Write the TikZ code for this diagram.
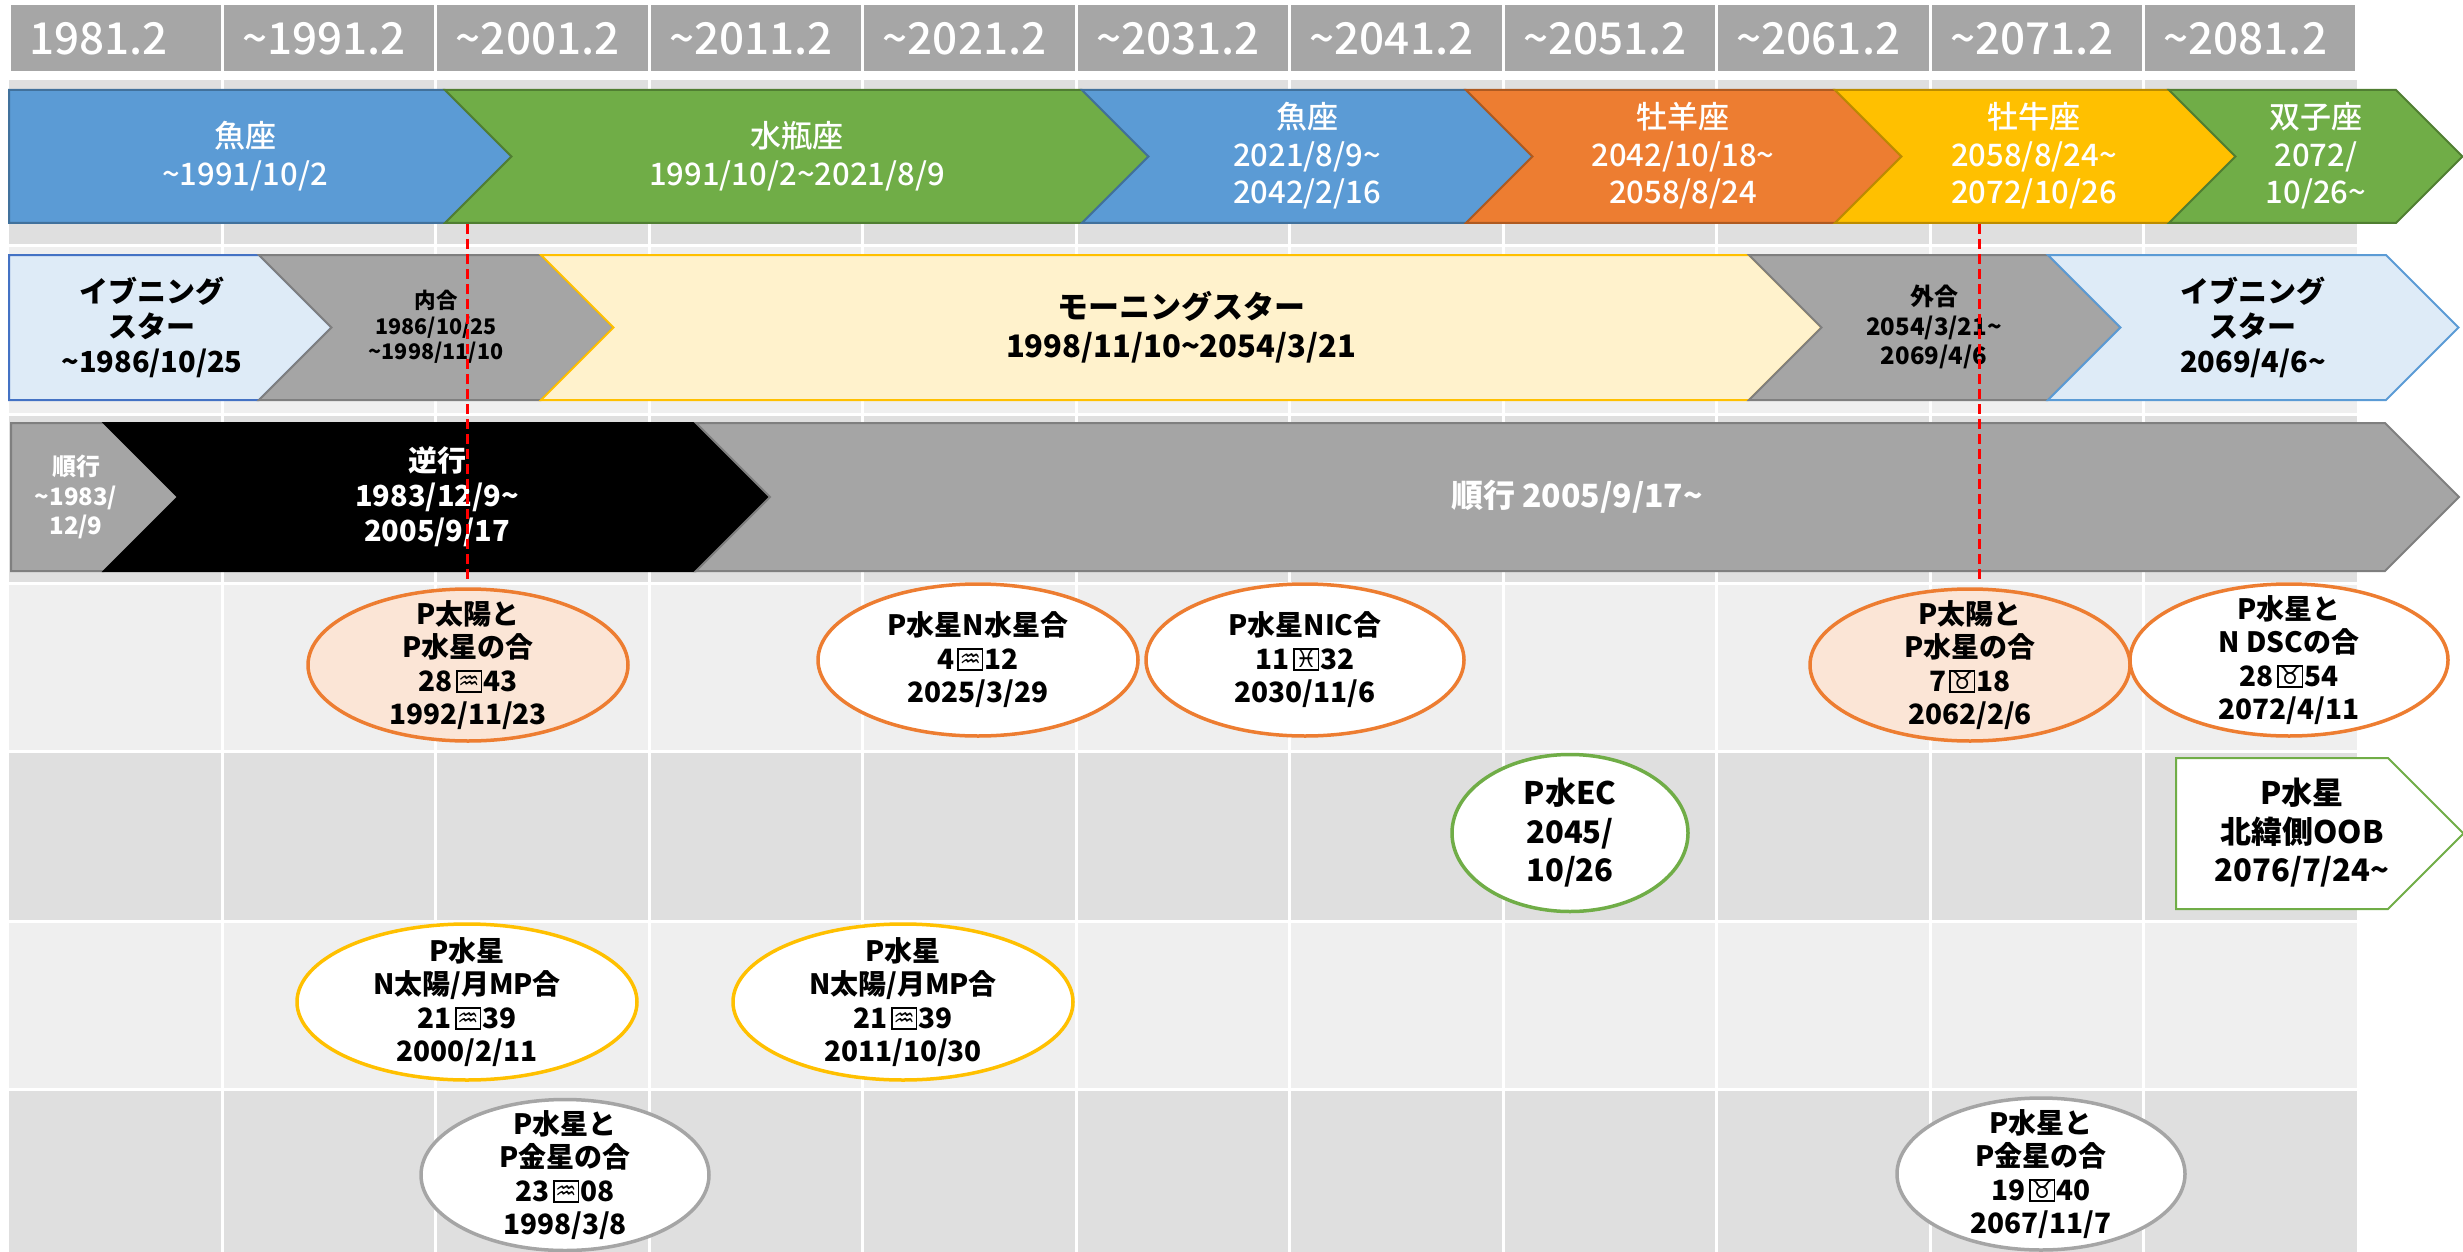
\documentclass[tikz,border=0pt]{standalone}
\usepackage{fontspec}
\setmainfont{Noto Sans CJK JP}
\newfontfamily\medfnt{Noto Sans CJK JP Medium}
\newfontfamily\symfnt{DejaVu Sans}
\usepackage{tikz}
\usetikzlibrary{positioning}
\usetikzlibrary{shapes.geometric}
\usepackage{xcolor}

\definecolor{hdgray}{HTML}{A6A6A6}
\definecolor{bandA}{HTML}{DFDFDF}
\definecolor{bandB}{HTML}{EFEFEF}
\definecolor{zblue}{HTML}{5B9BD5}
\definecolor{zblueln}{HTML}{41719C}
\definecolor{zgreen}{HTML}{70AD47}
\definecolor{zgreenln}{HTML}{507E32}
\definecolor{zorange}{HTML}{ED7D31}
\definecolor{zorangeln}{HTML}{AE5A21}
\definecolor{zgold}{HTML}{FFC000}
\definecolor{zgoldln}{HTML}{BC8C00}
\definecolor{skyfill}{HTML}{DEEBF7}
\definecolor{skyln}{HTML}{4472C4}
\definecolor{conjgray}{HTML}{A5A5A5}
\definecolor{conjln}{HTML}{7F7F7F}
\definecolor{cream}{HTML}{FFF2CC}
\definecolor{peach}{HTML}{FBE5D6}

\newcommand{\wave}{\textasciitilde}
\newcommand{\zsg}[1]{\hspace{3pt}{\setlength{\fboxsep}{0pt}\setlength{\fboxrule}{1.5pt}\fbox{\makebox[23pt]{\rule{0pt}{19.5pt}\raisebox{1.5pt}{\symfnt\fontsize{24}{24}\selectfont #1}}}}\hspace{1pt}}
\newcommand{\chev}[5]{\draw[#1] (#2,#4) -- (#3,#4) -- ({#3+(#5-#4)/2},{(#4+#5)/2}) -- (#3,#5) -- (#2,#5) -- ({#2+(#5-#4)/2},{(#4+#5)/2}) -- cycle;}
\newcommand{\pent}[5]{\draw[#1] (#2,#4) -- (#3,#4) -- ({#3+(#5-#4)/2},{(#4+#5)/2}) -- (#3,#5) -- (#2,#5) -- cycle;}

\begin{document}
\begin{tikzpicture}[x=1pt, y=-1pt,
  hd/.style = {fill=hdgray, draw=white, line width=3pt, outer sep=0pt, minimum height=69pt, text width=173.45pt, inner xsep=20pt, inner ysep=0pt, align=left, text=white, font=\medfnt\fontsize{44}{44}\selectfont},
  arr/.style = {line width=2pt, line join=miter},
  zb/.style = {arr, fill=zblue, draw=zblueln},
  zg/.style = {arr, fill=zgreen, draw=zgreenln},
  zo/.style = {arr, fill=zorange, draw=zorangeln},
  zy/.style = {arr, fill=zgold, draw=zgoldln},
  eve1/.style = {arr, fill=skyfill, draw=skyln},
  eve2/.style = {arr, fill=skyfill, draw=zblue},
  conj/.style = {arr, fill=conjgray, draw=conjln},
  morn/.style = {arr, fill=cream, draw=zgold},
  retro/.style = {arr, fill=black, draw=black},
  oob/.style = {arr, fill=white, draw=zgreen},
  ztxt/.style = {text=white, align=center, font=\medfnt\fontsize{31}{37.5}\selectfont},
  stxt/.style = {align=center, font=\bfseries\fontsize{29}{35}\selectfont},
  ntxt/.style = {align=center, font=\bfseries\fontsize{21.5}{25.5}\selectfont},
  gtxt/.style = {align=center, font=\bfseries\fontsize{24}{29.5}\selectfont},
  rtxt/.style = {text=white, align=center, font=\bfseries\fontsize{29}{35}\selectfont},
  ell/.style = {draw, ellipse, line width=3.5pt, inner sep=0pt, fill=white},
  ctxt/.style = {align=center, font=\bfseries\fontsize{28}{33.5}\selectfont},
  btxt/.style = {align=center, font=\bfseries\fontsize{31}{38.5}\selectfont},
  redline/.style = {red, line width=3pt, dash pattern=on 10pt off 5pt}]
\useasboundingbox (0,0) rectangle (2463,1252);

% year header
\node[hd, anchor=north west] (y1) at (9,4) {1981.2};
\node[hd, right=0pt of y1] (y2) {\wave1991.2};
\node[hd, right=0pt of y2] (y3) {\wave2001.2};
\node[hd, right=0pt of y3] (y4) {\wave2011.2};
\node[hd, right=0pt of y4] (y5) {\wave2021.2};
\node[hd, right=0pt of y5] (y6) {\wave2031.2};
\node[hd, right=0pt of y6] (y7) {\wave2041.2};
\node[hd, right=0pt of y7] (y8) {\wave2051.2};
\node[hd, right=0pt of y8] (y9) {\wave2061.2};
\node[hd, right=0pt of y9] (y10) {\wave2071.2};
\node[hd, right=0pt of y10] (y11) {\wave2081.2};

% table bands
\fill[bandA] (9,80) rectangle (2357,245.5);
\fill[bandB] (9,245.5) rectangle (2357,414.5);
\fill[bandA] (9,414.5) rectangle (2357,583.5);
\fill[bandB] (9,583.5) rectangle (2357,751.5);
\fill[bandA] (9,751.5) rectangle (2357,921);
\fill[bandB] (9,921) rectangle (2357,1089);
\fill[bandA] (9,1089) rectangle (2357,1252);
\foreach \yy in {245.5,414.5,583.5,751.5,921,1089}
  \draw[white, line width=3pt] (9,\yy) -- (2357,\yy);
\foreach \i in {1,...,10}
  \draw[white, line width=3pt] ({9+213.45*\i},80) -- ({9+213.45*\i},1252);

% signs
\pent{zb}{9}{445}{90}{223}
\chev{zg}{445}{1082}{90}{223}
\chev{zb}{1082}{1466}{90}{223}
\chev{zo}{1466}{1835}{90}{223}
\chev{zy}{1835}{2169}{90}{223}
\chev{zg}{2169}{2396}{90}{223}
\node[ztxt] (pisces1) at (245,156) {魚座\\\wave1991/10/2};
\node[ztxt] (aquarius) at (797,156) {水瓶座\\1991/10/2\wave2021/8/9};
\node[ztxt] (pisces2) at (1307,156) {魚座\\2021/8/9\wave\\2042/2/16};
\node[ztxt] (aries) at (1683,156) {牡羊座\\2042/10/18\wave\\2058/8/24};
\node[ztxt] (taurus) at (2034,156) {牡牛座\\2058/8/24\wave\\2072/10/26};
\node[ztxt] (gemini) at (2316,156) {双子座\\2072/\\10/26\wave};

% evening / morning star
\pent{eve1}{9}{259}{255}{400}
\chev{conj}{259}{541}{255}{400}
\chev{morn}{541}{1749}{255}{400}
\chev{conj}{1749}{2048}{255}{400}
\chev{eve2}{2048}{2386}{255}{400}
\node[stxt] (eve1t) at (152,327) {イブニング\\スター\\\wave1986/10/25};
\node[ntxt] (infc) at (436,327) {内合\\1986/10/25\\\wave1998/11/10};
\node[stxt, font=\bfseries\fontsize{31}{39}\selectfont] (morning) at (1181,327) {モーニングスター\\1998/11/10\wave2054/3/21};
\node[gtxt] (supc) at (1934,327) {外合\\2054/3/21\wave\\2069/4/6};
\node[stxt] (eve2t) at (2253,327) {イブニング\\スター\\2069/4/6\wave};

% direct / retrograde
\pent{conj}{11}{104}{423}{571}
\chev{retro}{104}{696}{423}{571}
\chev{conj}{696}{2385}{423}{571}
\node[gtxt, text=white] (dir1) at (76,497) {順行\\\wave1983/\\12/9};
\node[rtxt] (retro) at (437,497) {逆行\\1983/12/9\wave\\2005/9/17};
\node[rtxt, font=\bfseries\fontsize{32}{36}\selectfont] (dir2) at (1577,497) {順行 2005/9/17\wave};

% events
\node[ell, draw=zorange, fill=peach, minimum width=320pt, minimum height=152pt] (e1) at (468,665) {};
\node[ctxt] (e1t) at (e1) {P太陽と\\P水星の合\\28\zsg{♒}43\\1992/11/23};
\node[ell, draw=zorange, minimum width=320pt, minimum height=152pt] (e2) at (978,660) {};
\node[ctxt] (e2t) at (e2) {P水星N水星合\\4\zsg{♒}12\\2025/3/29};
\node[ell, draw=zorange, minimum width=318pt, minimum height=152pt] (e3) at (1305,660) {};
\node[ctxt] (e3t) at (e3) {P水星NIC合\\11\zsg{♓}32\\2030/11/6};
\node[ell, draw=zorange, fill=peach, minimum width=320pt, minimum height=152pt] (e4) at (1970,665) {};
\node[ctxt] (e4t) at (e4) {P太陽と\\P水星の合\\7\zsg{♉}18\\2062/2/6};
\node[ell, draw=zorange, minimum width=318pt, minimum height=152pt] (e5) at (2289,660) {};
\node[ctxt] (e5t) at (e5) {P水星と\\N DSCの合\\28\zsg{♉}54\\2072/4/11};

\node[ell, draw=zgreen, minimum width=236pt, minimum height=157pt] (e6) at (1570,833) {};
\node[btxt] (e6t) at (e6) {P水EC\\2045/\\10/26};
\pent{oob}{2176}{2388}{758}{909}
\node[btxt] (oobt) at (2302,833) {P水星\\北緯側OOB\\2076/7/24\wave};

\node[ell, draw=zgold, minimum width=340pt, minimum height=156pt] (e7) at (467,1002) {};
\node[ctxt] (e7t) at (e7) {P水星\\N太陽/月MP合\\21\zsg{♒}39\\2000/2/11};
\node[ell, draw=zgold, minimum width=340pt, minimum height=156pt] (e8) at (903,1002) {};
\node[ctxt] (e8t) at (e8) {P水星\\N太陽/月MP合\\21\zsg{♒}39\\2011/10/30};

\node[ell, draw=conjgray, minimum width=288pt, minimum height=151pt] (e9) at (565,1175) {};
\node[ctxt] (e9t) at (e9) {P水星と\\P金星の合\\23\zsg{♒}08\\1998/3/8};
\node[ell, draw=conjgray, minimum width=288pt, minimum height=152pt] (e10) at (2041,1174) {};
\node[ctxt] (e10t) at (e10) {P水星と\\P金星の合\\19\zsg{♉}40\\2067/11/7};

% conjunction markers
\coordinate (sun1) at (467,224);
\coordinate (sun2) at (1979,224);
\draw[redline] (sun1) -- ++(0,359);
\draw[redline] (sun2) -- ++(0,359);
\end{tikzpicture}
\end{document}
